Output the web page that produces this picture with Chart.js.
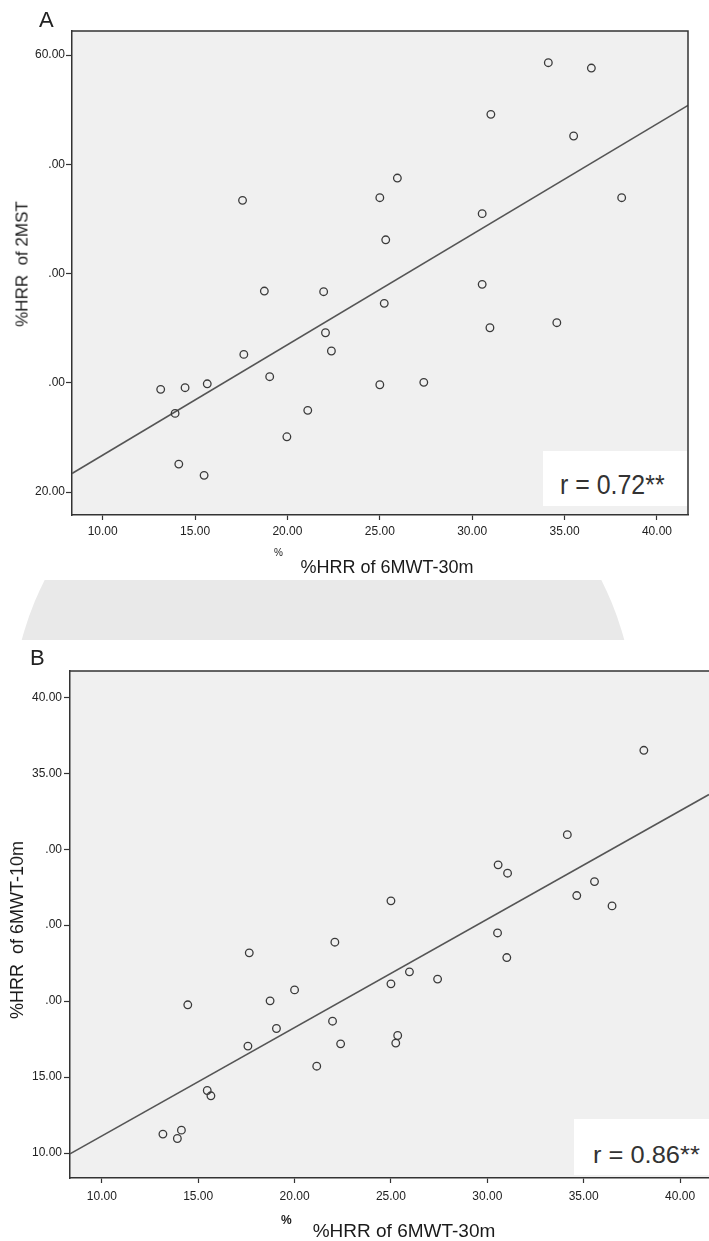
<!DOCTYPE html>
<html>
<head>
<meta charset="utf-8">
<script src="https://cdn.jsdelivr.net/npm/chart.js@4.4.0/dist/chart.umd.min.js"></script>
<style>
    body { margin: 0; width: 709px; height: 1241px; background: #fff; position: relative; overflow: hidden;
           font-family: "Liberation Sans", Arial, sans-serif; color: #1a1a1a; }
    .wrap { position: absolute; left: 0; width: 709px; }
    #wrapA { top: 0; height: 580px; }
    #wrapB { top: 640px; height: 601px; }
    .txt { position: absolute; line-height: 1; white-space: pre; }
    .rbox { position: absolute; background: #fff; }
    .rbox span { position: absolute; line-height: 1; white-space: pre; color: #333; transform-origin: left top; }
    #seal { position: absolute; left: 0; top: 580px; width: 709px; height: 60px; overflow: hidden; }
    #seal div { position: absolute; left: 11px; top: -171px; width: 624px; height: 624px; border-radius: 50%; background: #e9e9e9; }
</style>
</head>
<body>
<div id="seal"><div></div></div>

<div class="wrap" id="wrapA"><canvas id="chartA" width="709" height="580"></canvas></div>
<div class="wrap" id="wrapB"><canvas id="chartB" width="709" height="601"></canvas></div>

<div class="txt" style="left:39px; top:9px; font-size:22px; color:#222;">A</div>
<div class="txt" style="left:30px; top:647px; font-size:22px; color:#222;">B</div>

<div class="txt" style="left:22px; top:264px; font-size:17px; transform:translate(-50%,-50%) rotate(-90deg);">%HRR  of 2MST</div>
<div class="txt" style="left:17px; top:930px; font-size:18px; transform:translate(-50%,-50%) rotate(-90deg);">%HRR  of 6MWT-10m</div>

<div class="txt" style="left:387px; top:558px; font-size:18px; transform:translateX(-50%);">%HRR of 6MWT-30m</div>
<div class="txt" style="left:404px; top:1221px; font-size:19px; transform:translateX(-50%);">%HRR of 6MWT-30m</div>
<div class="txt" style="left:274px; top:548px; font-size:10px;">%</div>
<div class="txt" style="left:281px; top:1214px; font-size:12px; font-weight:bold;">%</div>

<div class="rbox" style="left:543px; top:451px; width:144px; height:55px;">
    <span style="left:17px; top:20px; font-size:28px; transform:scaleX(0.89);">r = 0.72**</span>
</div>
<div class="rbox" style="left:574px; top:1119px; width:135px; height:56px;">
    <span style="left:19px; top:24px; font-size:24px; transform:scaleX(1.06);">r = 0.86**</span>
</div>

<script>
// panel A: %HRR of 6MWT-30m vs %HRR of 2MST
const xA = [13.14, 13.92, 14.12, 14.46, 15.49, 15.66, 17.57, 17.64, 18.75, 19.04,
            19.97, 21.10, 21.96, 22.06, 22.38, 25.00, 25.00, 25.24, 25.32, 25.95,
            27.38, 30.54, 30.54, 30.96, 31.01, 34.12, 34.58, 35.49, 36.45, 38.09];
const yA = [29.40, 27.20, 22.56, 29.55, 21.53, 29.91, 46.70, 32.60, 38.40, 30.56,
            25.06, 27.48, 38.34, 34.58, 32.91, 46.94, 29.82, 37.27, 43.09, 48.74,
            30.04, 45.48, 39.01, 35.04, 54.57, 59.30, 35.50, 52.59, 58.81, 46.94];
const fitXA = [8.34, 41.68];
const fitYA = [21.7, 55.4];
const xTicksA = [10, 15, 20, 25, 30, 35, 40];
const yTicksA = [20, 30, 40, 50, 60];
const yLabelsA = ["20.00", ".00", ".00", ".00", "60.00"];

// panel B: %HRR of 6MWT-30m vs %HRR of 6MWT-10m
const xB = [13.17, 13.92, 14.13, 14.46, 15.47, 15.66, 17.58, 17.65, 18.73, 19.06,
            20.00, 21.15, 21.97, 22.09, 22.39, 25.00, 25.00, 25.25, 25.35, 25.96,
            27.42, 30.53, 30.56, 31.01, 31.05, 34.15, 34.64, 35.56, 36.47, 38.12];
const yB = [11.25, 10.96, 11.51, 19.76, 14.12, 13.77, 17.04, 23.18, 20.02, 18.20,
            20.74, 15.72, 18.68, 23.88, 17.19, 26.60, 21.14, 17.24, 17.74, 21.93,
            21.45, 24.49, 28.97, 22.87, 28.42, 30.96, 26.95, 27.87, 26.27, 36.51];
const fitXB = [8.35, 41.5];
const fitYB = [9.95, 33.6];
const xTicksB = [10, 15, 20, 25, 30, 35, 40];
const yTicksB = [10, 15, 20, 25, 30, 35, 40];
const yLabelsB = ["10.00", "15.00", ".00", ".00", ".00", "35.00", "40.00"];

Chart.defaults.font.family = '"Liberation Sans", Arial, sans-serif';

const framePlugin = {
    id: "frame",
    beforeDraw(chart) {
        const {ctx, chartArea: a} = chart;
        ctx.save();
        ctx.fillStyle = "#f0f0f0";
        ctx.fillRect(a.left, a.top, a.right - a.left, a.bottom - a.top);
        ctx.restore();
    },
    afterDraw(chart) {
        const {ctx, chartArea: a} = chart;
        ctx.save();
        ctx.strokeStyle = "#333";
        ctx.lineWidth = 1.5;
        ctx.beginPath();
        ctx.moveTo(a.left, a.top);
        ctx.lineTo(a.right, a.top);
        if (chart.options.plugins.frame.rightLine) {
            ctx.lineTo(a.right, a.bottom);
        }
        ctx.stroke();
        ctx.restore();
    }
};

function makeChart(id, xs, ys, fx, fy, p) {
    const pts = xs.map((x, i) => ({x: x, y: ys[i]}));
    const fit = fx.map((x, i) => ({x: x, y: fy[i]}));
    return new Chart(document.getElementById(id), {
        type: "scatter",
        data: {
            datasets: [{
                data: pts,
                pointRadius: 3.8,
                pointBorderWidth: 1.3,
                borderColor: "#3a3a3a",
                backgroundColor: "rgba(0,0,0,0)"
            }, {
                data: fit,
                showLine: true,
                pointRadius: 0,
                borderColor: "#555",
                borderWidth: 1.5
            }]
        },
        options: {
            responsive: false,
            animation: false,
            layout: {autoPadding: false, padding: {top: 31, right: p.right, left: 0, bottom: 0}},
            plugins: {
                legend: {display: false},
                tooltip: {enabled: false},
                frame: {rightLine: p.right > 0}
            },
            scales: {
                x: {
                    type: "linear",
                    min: p.xmin, max: p.xmax,
                    afterBuildTicks: s => { s.ticks = p.xTicks.map(v => ({value: v})); },
                    afterFit: s => { s.height = p.xh; },
                    ticks: {
                        callback: v => v.toFixed(2),
                        font: {size: 12}, color: "#222",
                        padding: p.xpad, maxRotation: 0, autoSkip: false
                    },
                    grid: {drawOnChartArea: false, drawTicks: true, tickLength: 5, tickColor: "#333", tickWidth: 1.2},
                    border: {display: true, color: "#333", width: 1.5}
                },
                y: {
                    type: "linear",
                    min: p.ymin, max: p.ymax,
                    afterBuildTicks: s => { s.ticks = p.yTicks.map(v => ({value: v})); },
                    afterFit: s => { s.width = p.yw; },
                    ticks: {
                        callback: (v, i) => p.yLabels[i],
                        font: {size: 12}, color: "#222",
                        padding: p.ypad, autoSkip: false
                    },
                    grid: {drawOnChartArea: false, drawTicks: true, tickLength: 6, tickColor: "#333", tickWidth: 1.2},
                    border: {display: true, color: "#333", width: 1.5}
                }
            }
        },
        plugins: [framePlugin]
    });
}

makeChart("chartA", xA, yA, fitXA, fitYA, {
    xmin: 8.34, xmax: 41.68, ymin: 17.9, ymax: 62.2,
    xTicks: xTicksA, yTicks: yTicksA, yLabels: yLabelsA,
    right: 21, xh: 65, yw: 72, xpad: 4, ypad: 1
});
makeChart("chartB", xB, yB, fitXB, fitYB, {
    xmin: 8.35, xmax: 41.5, ymin: 8.36, ymax: 41.73,
    xTicks: xTicksB, yTicks: yTicksB, yLabels: yLabelsB,
    right: 0, xh: 63, yw: 70, xpad: 6, ypad: 2
});
</script>
</body>
</html>
